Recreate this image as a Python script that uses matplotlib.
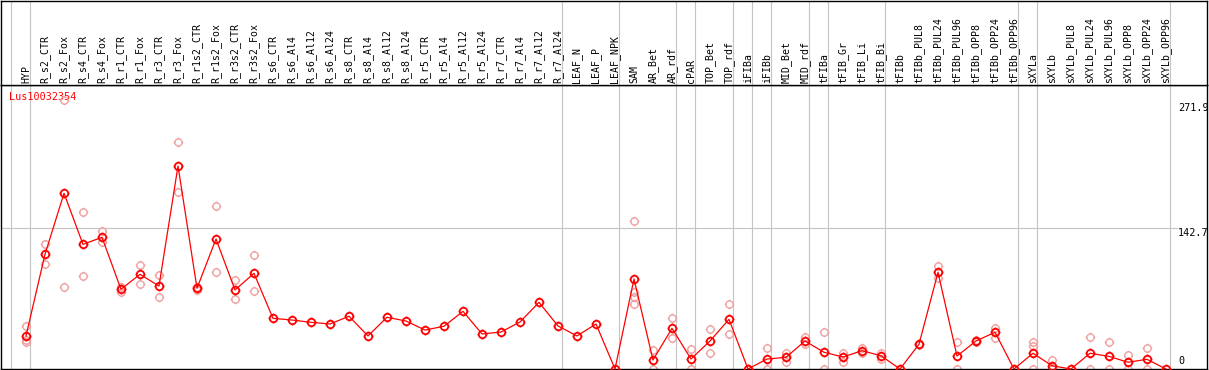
import numpy as np
import matplotlib
matplotlib.use("Agg")
import matplotlib.pyplot as plt
from matplotlib.path import Path

# ---------------- data ----------------
gene_id = "Lus10032354"

categories = [
    "HYP", "R_s2_CTR", "R_s2_Fox", "R_s4_CTR", "R_s4_Fox", "R_r1_CTR", "R_r1_Fox",
    "R_r3_CTR", "R_r3_Fox", "R_r1s2_CTR", "R_r1s2_Fox", "R_r3s2_CTR", "R_r3s2_Fox",
    "R_s6_CTR", "R_s6_Al4", "R_s6_Al12", "R_s6_Al24", "R_s8_CTR", "R_s8_Al4",
    "R_s8_Al12", "R_s8_Al24", "R_r5_CTR", "R_r5_Al4", "R_r5_Al12", "R_r5_Al24",
    "R_r7_CTR", "R_r7_Al4", "R_r7_Al12", "R_r7_Al24", "LEAF_N", "LEAF_P", "LEAF_NPK",
    "SAM", "AR_Bet", "AR_rdf", "cPAR", "TOP_Bet", "TOP_rdf", "iFIBa", "iFIBb",
    "MID_Bet", "MID_rdf", "tFIBa", "tFIB_Gr", "tFIB_Li", "tFIB_Bi", "tFIBb",
    "tFIBb_PUL8", "tFIBb_PUL24", "tFIBb_PUL96", "tFIBb_OPP8", "tFIBb_OPP24",
    "tFIBb_OPP96", "sXYLa", "sXYLb", "sXYLb_PUL8", "sXYLb_PUL24", "sXYLb_PUL96",
    "sXYLb_OPP8", "sXYLb_OPP24", "sXYLb_OPP96",
]

mean_values = [
    33.4, 115.9, 177.6, 126.0, 133.1, 80.6, 95.7, 83.9, 205.2, 81.6, 131.4, 79.9, 96.7,
    51.2, 49.5, 47.2, 45.5, 53.3, 33.4, 52.3, 48.5, 39.4, 43.2, 58.3, 35.4,
    37.4, 47.5, 67.4, 43.5, 33.4, 45.5, 0.0,
    91.0, 9.1, 41.1, 10.1, 28.3, 50.2, 0.0, 10.1, 11.8, 28.3, 16.9, 12.1, 18.5, 13.4, 0.0,
    25.0, 97.7, 13.1, 28.3, 37.1, 0.0, 15.9, 3.3, 0.0, 15.9, 12.8, 6.8, 9.8, 0.0,
]

replicates = [
    [43.5, 29.3, 27.6], [126.0, 105.8], [271.9, 82.6], [158.4, 94.0], [139.5, 128.1],
    [83.0, 78.2], [105.1, 85.6], [95.0, 72.5], [229.8, 179.2], [83.0, 80.2],
    [164.5, 97.7], [90.0, 70.5], [115.2, 78.5],
    [], [], [], [], [], [], [], [], [], [], [], [], [], [], [], [], [], [], [],
    [149.6, 78.1, 73.1, 65.7], [19.2, 0.0], [51.2, 31.0], [20.2, 0.0], [40.1, 15.9],
    [65.7, 35.4], [], [20.9, 0.0], [16.5, 7.1], [32.7, 25.0], [37.4, 0.0],
    [15.9, 7.4], [20.9, 16.2], [15.9, 10.1], [],
    [25.5, 24.5], [104.1, 91.7], [27.0, 0.0], [29.5, 27.2], [41.7, 31.0], [],
    [27.0, 23.2, 0.0], [9.1, 0.0], [], [32.0, 0.0], [27.0, 0.0], [14.2, 0.0],
    [20.9, 0.0], [],
]

group_sizes = [1, 28, 3, 3, 1, 2, 1, 1, 2, 1, 3, 7, 1, 7]
axis_labels = [271.9, 142.7, 0]

# ---------------- style ----------------
W, H = 1209, 370
fig = plt.figure(figsize=(W / 100, H / 100), dpi=100)
fig.patch.set_facecolor("white")

L_px, R_px = 1, 1207
top_px, hdr_px, bot_px = 0.5, 85, 369
ax = fig.add_axes([L_px / W, (H - bot_px) / H, (R_px - L_px) / W, (bot_px - hdr_px) / H])
hx = fig.add_axes([L_px / W, (H - hdr_px) / H, (R_px - L_px) / W, (hdr_px - top_px) / H],
                  sharex=ax)

n = len(categories)
x = np.arange(n)
px_per_cat = 19.0
xmin = -(26 - L_px) / px_per_cat
xmax = xmin + (R_px - L_px) / px_per_cat
ax.set_xlim(xmin, xmax)
ax.set_ylim(0, 271.9 * (bot_px - hdr_px) / (bot_px - 100))
hx.set_ylim(0, 1)

for a in (ax, hx):
    a.set_xticks([])
    a.set_yticks([])
    for s in a.spines.values():
        s.set_color("black")
        s.set_linewidth(1.0)

grid_c = "#c4c4c4"
bounds = np.concatenate([[-1], np.cumsum(group_sizes) - 1])
for b in bounds:
    xb = b + 4 / px_per_cat
    ax.axvline(xb, color=grid_c, lw=0.8, zorder=0)
    hx.axvline(xb, color=grid_c, lw=0.8, zorder=0)

label_x = n - 1 + (1178 - (26 + 19 * (n - 1))) / px_per_cat
ax.hlines(142.7, xmin, label_x, color=grid_c, lw=0.8, zorder=0)

# custom marker: circle with four short ticks
circ = Path.unit_circle()
r1, r2 = 1.0, 1.3
ticks = Path([[0, r1], [0, r2], [0, -r1], [0, -r2], [r1, 0], [r2, 0], [-r1, 0], [-r2, 0]],
             [Path.MOVETO, Path.LINETO] * 4)
mk = Path.make_compound_path(circ, ticks)

rep_x = [i for i, reps in enumerate(replicates) for _ in reps]
rep_y = [v for reps in replicates for v in reps]
ax.plot(rep_x, rep_y, linestyle="none", marker=mk, markersize=6.8,
        markerfacecolor="none", markeredgecolor="#f0a0a0", markeredgewidth=1.0,
        clip_on=False, zorder=2)

ax.plot(x, mean_values, color="#ff0000", lw=0.9, zorder=3, clip_on=False)
ax.plot(x, mean_values, linestyle="none", marker=mk, markersize=7.0,
        markerfacecolor="none", markeredgecolor="#ff0000", markeredgewidth=1.3,
        clip_on=False, zorder=4)

font = "DejaVu Sans Mono"
for i, c in enumerate(categories):
    hx.text(i, 2 / (hdr_px - top_px), c, rotation=90, ha="center", va="bottom",
            fontsize=7.1, family=font, color="black")

ax.annotate(gene_id, xy=((9 - 26) / px_per_cat, ax.get_ylim()[1]), xycoords="data",
            xytext=(0, -12.5), textcoords="offset pixels", ha="left", va="center",
            fontsize=7.3, family=font, color="#ff0000", zorder=1)

offsets = {271.9: (-3, "top"), 142.7: (0, "top"), 0: (3, "bottom")}
for v in axis_labels:
    dy, va = offsets[v]
    ax.annotate(f"{v:g}" if v else "0", xy=(label_x, v), xycoords="data",
                xytext=(0, dy), textcoords="offset pixels", ha="left", va=va,
                fontsize=7.3, family=font, color="black", annotation_clip=False)

fig.savefig("out.png", dpi=100)
